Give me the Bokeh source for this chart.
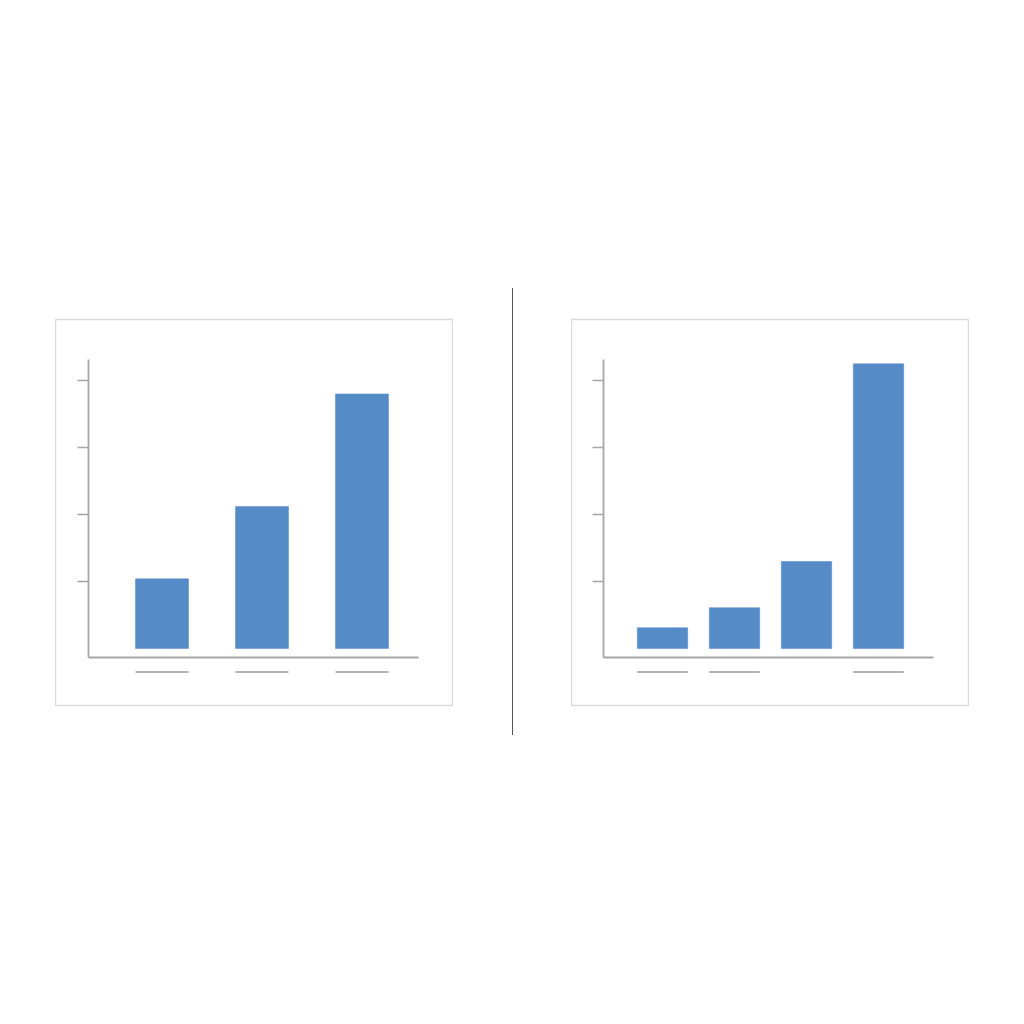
from bokeh.plotting import figure
from bokeh.layouts import row, column
from bokeh.models import Spacer, Div, FixedTicker, CustomJSTickFormatter, ColumnDataSource
from bokeh.embed import file_html
from bokeh.resources import INLINE

# ---- data ----
left_values = [1.04, 2.12, 3.80]
right_values = [0.31, 0.61, 1.30, 4.25]
# which categories carry a (placeholder) label line
left_label_shown = [True, True, True]
right_label_shown = [True, True, False, True]
y_ticks = [1, 2, 3, 4]

BAR = "#558BC6"
AXIS = "#A6A6A6"
LABEL_LINE = "#B4B4B4"
BOX = "#DADADA"


def panel(values, shown, px_per_cat, left_offset_px, bar_w, yaxis_x, xaxis_end):
    n = len(values)
    xs = list(range(1, n + 1))
    frame_w, frame_h = 398, 386
    px_per_unit = 67.0
    y0 = -0.85
    x0 = 1 - left_offset_px / px_per_cat
    p = figure(width=frame_w, height=frame_h + 61, output_backend="svg",
               toolbar_location=None,
               x_range=(x0, x0 + frame_w / px_per_cat),
               y_range=(y0, y0 + frame_h / px_per_unit),
               min_border_left=0, min_border_right=0,
               min_border_top=31, min_border_bottom=30)
    p.background_fill_color = "white"
    p.border_fill_color = "white"
    p.outline_line_color = BOX
    p.outline_line_width = 1.5
    p.grid.visible = False

    src = ColumnDataSource(dict(x=xs, top=values))
    p.vbar(x="x", top="top", bottom=0, width=bar_w, source=src,
           fill_color=BAR, line_color=BAR, line_width=0.5)

    lx0 = [x - bar_w / 2 for x, s in zip(xs, shown) if s]
    lx1 = [x + bar_w / 2 for x, s in zip(xs, shown) if s]
    ly = [-0.35] * len(lx0)
    p.segment(x0=lx0, y0=ly, x1=lx1, y1=ly, line_color=LABEL_LINE, line_width=2.2)

    blank = CustomJSTickFormatter(code="return ''")
    ya = p.yaxis[0]
    ya.fixed_location = yaxis_x
    ya.bounds = (-0.135, 4.32)
    ya.ticker = FixedTicker(ticks=y_ticks)
    ya.formatter = blank
    ya.major_label_text_color = None
    ya.axis_line_color = AXIS
    ya.axis_line_width = 1.8
    ya.major_tick_line_color = AXIS
    ya.major_tick_line_width = 1.6
    ya.major_tick_out = 11
    ya.major_tick_in = 0
    ya.minor_tick_line_color = None

    xa = p.xaxis[0]
    xa.fixed_location = -0.135
    xa.bounds = (yaxis_x, xaxis_end)
    xa.ticker = FixedTicker(ticks=[])
    xa.formatter = blank
    xa.major_label_text_color = None
    xa.axis_line_color = AXIS
    xa.axis_line_width = 1.8
    xa.major_tick_line_color = None
    xa.minor_tick_line_color = None
    return p


p1 = panel(left_values, left_label_shown, 100.0, 106.5, 0.53, 0.265, 3.565)
p2 = panel(right_values, right_label_shown, 72.0, 91.0, 0.70, 0.181, 4.764)

divider = Div(width=118, height=447, margin=0,
              text='<div style="margin-left:59px;width:0;height:447px;'
                   'border-left:1.6px solid #555555"></div>')

layout = column(Spacer(height=288),
                row(Spacer(width=55), p1, divider, p2))

open("out.html", "w").write(file_html(layout, INLINE))
